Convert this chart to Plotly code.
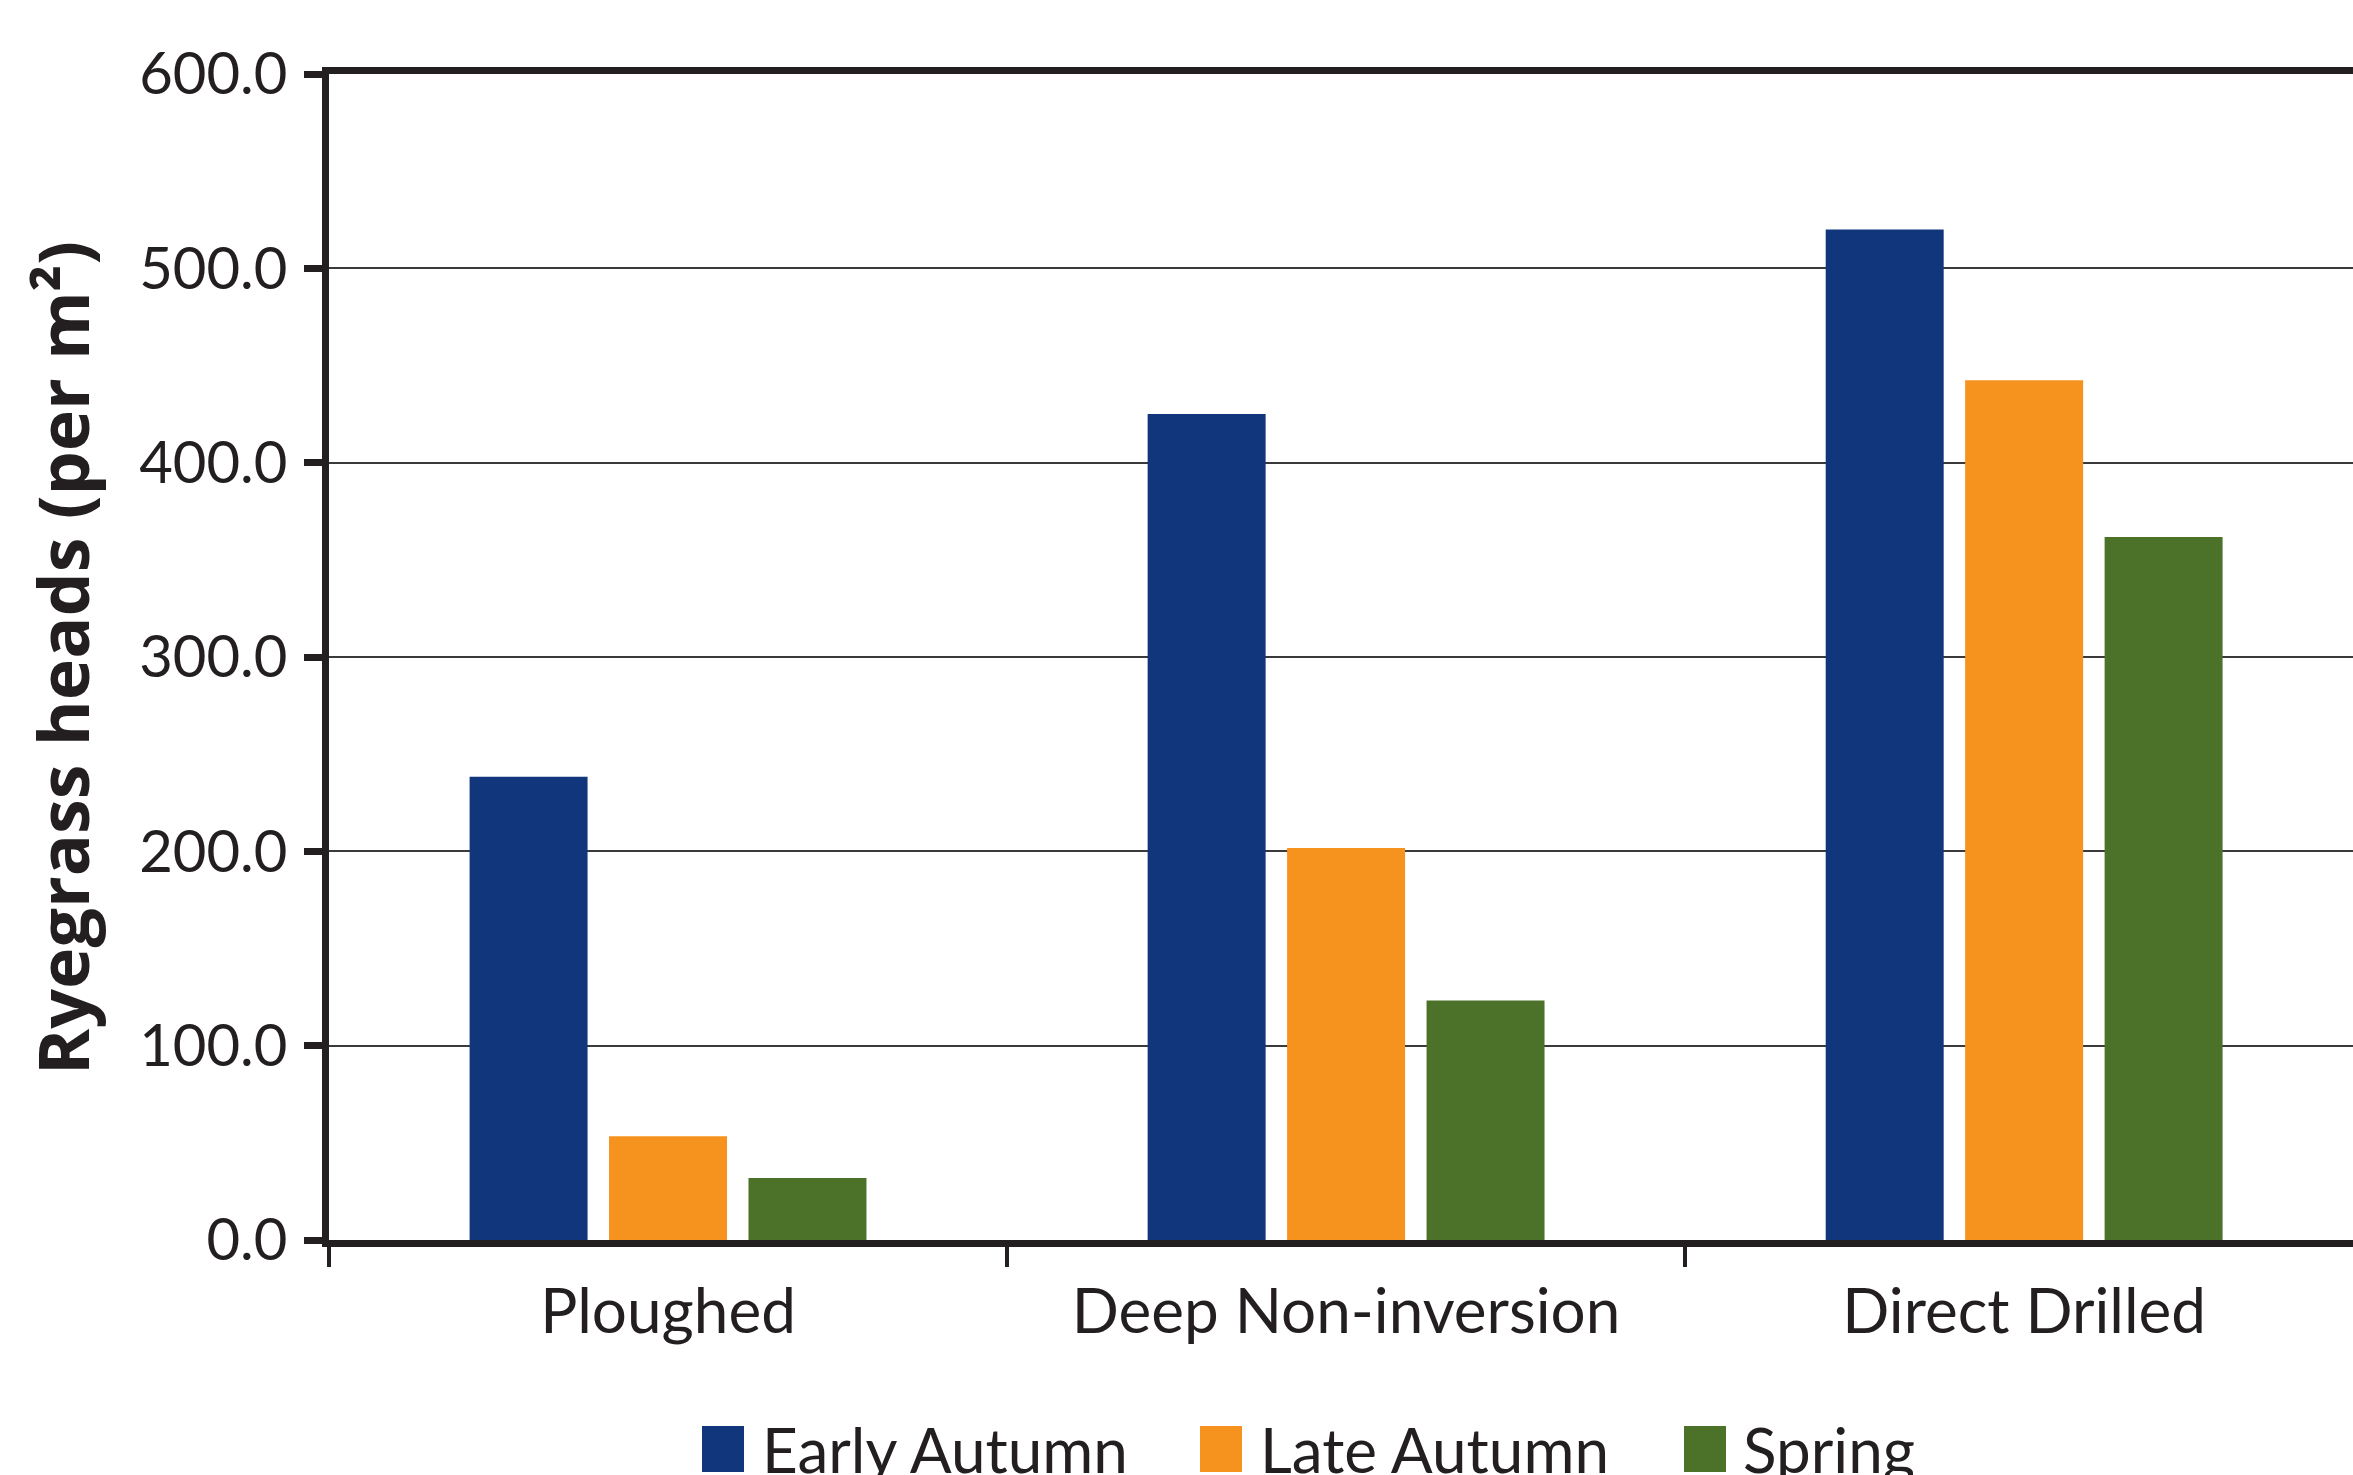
import plotly.graph_objects as go

# Tillage systems on the category axis
categories = ["Ploughed", "Deep Non-inversion", "Direct Drilled"]

# Ryegrass heads per m² for each drilling date
early_autumn = [238.4, 425.0, 520.0]
late_autumn = [53.4, 201.7, 442.4]
spring = [31.9, 123.3, 361.8]

series_names = ["Early Autumn", "Late Autumn", "Spring"]
series_values = [early_autumn, late_autumn, spring]
series_colors = ["#12367c", "#f6921e", "#4c7129"]

y_ticks = [0, 100, 200, 300, 400, 500, 600]
y_tick_text = [f"{v:.1f}" for v in y_ticks]

INK = "#231f20"
FONT = "Lato, 'Open Sans', sans-serif"
TITLE_FONT = "'Open Sans', Lato, sans-serif"

W, H = 2353, 1475
L, R, T, B = 329, 0, 74, 235
PW, PH = W - L - R, H - T - B


def px_x(px):
    """Pixel column -> paper x."""
    return (px - L) / PW


def px_y(py):
    """Pixel row -> paper y."""
    return (H - B - py) / PH


fig = go.Figure()
for name, vals, col in zip(series_names, series_values, series_colors):
    fig.add_trace(go.Bar(name=name, x=categories, y=vals,
                         marker=dict(color=col, line=dict(width=0)),
                         showlegend=False))

fig.update_layout(
    width=W, height=H,
    margin=dict(l=L, r=R, t=T, b=B, pad=0),
    paper_bgcolor="white", plot_bgcolor="white",
    barmode="group", bargap=0.383, bargroupgap=0.154,
    font=dict(family=FONT, color=INK, size=62),
)

# The last category runs slightly past the right edge of the page
fig.update_xaxes(
    range=[-0.5, 2.485],
    showline=True, linewidth=7, linecolor=INK, mirror=True,
    ticks="outside", tickson="boundaries", ticklen=20, tickwidth=4,
    tickcolor=INK, showgrid=False,
    tickfont=dict(family=FONT, size=62, color=INK),
    ticklabelstandoff=12,
)
fig.update_yaxes(
    range=[0, 600], tickvals=y_ticks, ticktext=y_tick_text,
    showline=True, linewidth=7, linecolor=INK,
    ticks="outside", ticklen=18, tickwidth=7, tickcolor=INK,
    showgrid=True, gridcolor="#3a3a3a", gridwidth=2,
    zeroline=False,
    tickfont=dict(family=FONT, size=58, color=INK),
    ticklabelstandoff=5,
)

# Rotated y-axis title
fig.add_annotation(
    text="<b>Ryegrass heads (per m²)</b>", textangle=-90,
    xref="paper", yref="paper", x=px_x(62), y=px_y(658),
    xanchor="center", yanchor="middle", showarrow=False,
    font=dict(family=TITLE_FONT, size=70, color=INK),
)

# Legend row along the bottom edge
legend_swatch_left = [702, 1200, 1684]
legend_text_left = [760, 1258, 1741]
sw_top, sw_bottom = 1426, 1472
for name, col, sx, tx in zip(series_names, series_colors,
                              legend_swatch_left, legend_text_left):
    fig.add_shape(type="rect", xref="paper", yref="paper",
                  x0=px_x(sx), x1=px_x(sx + 42),
                  y0=px_y(sw_bottom), y1=px_y(sw_top),
                  fillcolor=col, line=dict(width=0), layer="above")
    fig.add_annotation(text=name, xref="paper", yref="paper",
                       x=px_x(tx), y=px_y(1410), xanchor="left", yanchor="top",
                       showarrow=False,
                       font=dict(family=FONT, size=62, color=INK))

fig.write_html("out.html")
